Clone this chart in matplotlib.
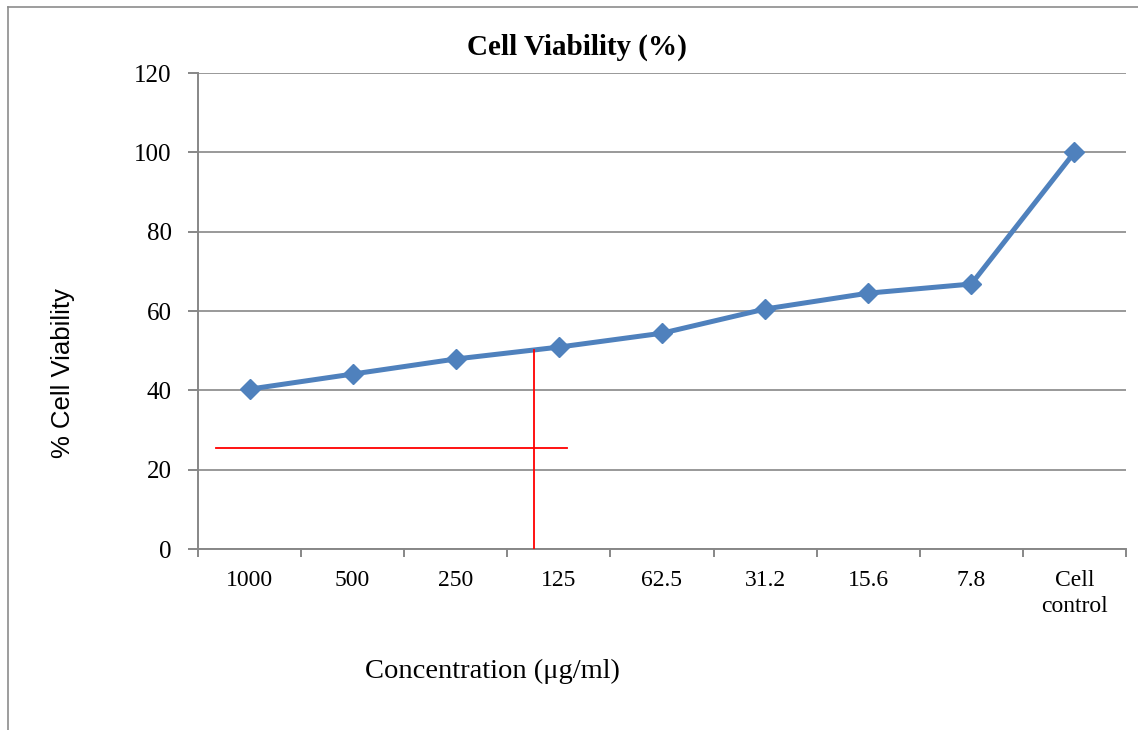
import matplotlib
matplotlib.use("Agg")
import matplotlib.pyplot as plt
from matplotlib.lines import Line2D

categories = ["1000", "500", "250", "125", "62.5", "31.2", "15.6", "7.8", "Cell\ncontrol"]
viability = [40.3, 44.1, 47.9, 50.9, 54.4, 60.5, 64.5, 66.8, 100.0]
y_ticks = [0, 20, 40, 60, 80, 100, 120]

# red guide lines (data coordinates)
red_h_y = 25.5
red_h_x = (-0.33, 3.08)
red_v_x = 2.76
red_v_y = (0, 50.2)

W, H = 1138, 730
fig = plt.figure(figsize=(W / 100, H / 100), dpi=100)
ax = fig.add_axes([198 / W, 1 - 549 / H, (1126 - 198) / W, (549 - 73) / H])

grid_c = "#878787"
ax.set_xlim(-0.5, len(categories) - 0.5)
ax.set_ylim(0, 120)
ax.set_yticks(y_ticks)
ax.yaxis.grid(True, color=grid_c, linewidth=1.2)
ax.set_axisbelow(True)
for s in ["top", "right"]:
    ax.spines[s].set_visible(False)
for s in ["left", "bottom"]:
    ax.spines[s].set_color(grid_c)
    ax.spines[s].set_linewidth(1.4)

x = list(range(len(categories)))
ax.set_xticks([i - 0.5 for i in range(len(categories) + 1)], minor=False)
ax.set_xticklabels([])
ax.set_xticks(x, minor=True)
ax.set_xticklabels(categories, minor=True, fontfamily="Liberation Serif", fontsize=17,
                   linespacing=1.3)
ax.tick_params(axis="x", which="major", direction="out", length=6, color=grid_c, width=1.4)
ax.tick_params(axis="x", which="minor", length=0, pad=15)
ax.tick_params(axis="y", direction="out", length=7, color=grid_c, width=1.4, pad=12)
for lab in ax.get_yticklabels():
    lab.set_fontfamily("Liberation Serif")
    lab.set_fontsize(18)

ax.plot(x, viability, color="#4F81BD", linewidth=3.6, marker="D", markersize=10,
        markerfacecolor="#4F81BD", markeredgecolor="#4F81BD", zorder=3)

ax.plot(list(red_h_x), [red_h_y, red_h_y], color="#FF0000", linewidth=1.3, zorder=4)
ax.plot([red_v_x, red_v_x], list(red_v_y), color="#FF0000", linewidth=1.3, zorder=4)

fig.text(577 / W, 1 - 47 / H, "Cell Viability (%)", ha="center", va="center",
         fontfamily="Liberation Serif", fontweight="bold", fontsize=21)
fig.text(492 / W, 1 - 671 / H, "Concentration (μg/ml)", ha="center", va="center",
         fontfamily="Liberation Serif", fontsize=20.5)
fig.text(63 / W, 1 - 373 / H, "% Cell Viability", ha="center", va="center", rotation=90,
         fontfamily="Liberation Sans", fontsize=18.5)

# outer frame fragments (top and left)
fig.add_artist(Line2D([8 / W, 1], [1 - 7 / H, 1 - 7 / H], color="#8c8c8c", linewidth=1.2,
                      transform=fig.transFigure))
fig.add_artist(Line2D([8 / W, 8 / W], [0, 1 - 7 / H], color="#8c8c8c", linewidth=1.2,
                      transform=fig.transFigure))

fig.savefig("out.png", dpi=100)
